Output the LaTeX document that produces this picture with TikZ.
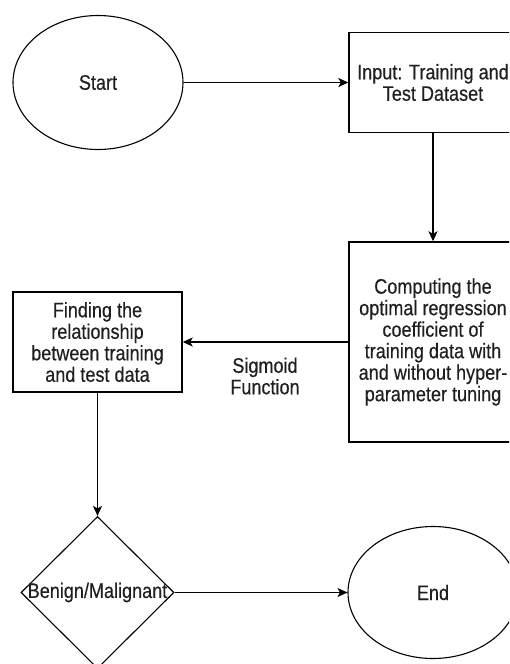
\documentclass[tikz,border=0pt]{standalone}
\usepackage{fontspec}
\setmainfont{Liberation Sans}[FakeStretch=0.86,FakeBold=0.4]
\usetikzlibrary{shapes.geometric,arrows.meta}
\begin{document}
\begin{tikzpicture}[x=1pt,y=-1pt,
  every node/.style={font=\fontsize{21pt}{21.5pt}\selectfont, align=center, inner sep=0pt, text=black!88},
  stepbox/.style={draw, line width=1.4pt, rectangle},
  terminal/.style={draw, line width=1.1pt, ellipse},
  decision/.style={draw, line width=1.1pt, diamond},
  flow/.style={line width=1.4pt, -{Stealth[length=10pt,width=9pt,inset=2.5pt]}}]
\useasboundingbox (0,0) rectangle (509,664);
\clip (0,0) rectangle (509,664);

% process boxes and terminals
\node[terminal, minimum width=170pt, minimum height=134pt] (start) at (98,82.5) {Start};
\node[stepbox, minimum width=168pt, minimum height=100pt] (input) at (433,82.5)
  {Input: Training and\\Test Dataset};
\node[stepbox, minimum width=168pt, minimum height=200pt] (comp) at (433,342)
  {Computing the\\optimal regression\\coefficient of\\training data with\\and without hyper-\\parameter tuning};
\node[stepbox, minimum width=169pt, minimum height=100pt] (find) at (97.5,342)
  {Finding the\\relationship\\between training\\and test data};
\node[decision, minimum width=153pt, minimum height=152pt] (dec) at (97.5,592.5) {};
\node (declabel) at (dec.center) {Benign/Malignant};
\node[terminal, minimum width=170pt, minimum height=132pt] (end) at (433,592.5) {End};
\node (sig) at (265,376) {Sigmoid\\Function};

% connectors
\draw[flow] (start) -- (input);
\draw[flow] (input) -- (comp);
\draw[flow] (comp) -- (find);
\draw[flow] (find) -- (dec);
\draw[flow] (dec) -- (end);
\end{tikzpicture}
\end{document}
